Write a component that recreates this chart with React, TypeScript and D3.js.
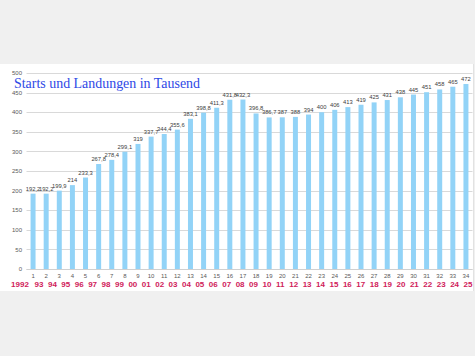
import React from "react";
import * as d3 from "d3";

const indices = Array.from({ length: 34 }, (_, i) => String(i + 1));
const years = ["1992","93","94","95","96","97","98","99","00","01","02","03","04","05","06","07","08","09","10","11","12","13","14","15","16","17","18","19","20","21","22","23","24","25"];
const values = [192.2,192.2,199.9,214,233.3,267.8,278.4,299.1,319,337.7,344.4,355.6,383.1,398.8,411.3,431.8,432.3,396.8,386.7,387,388,394,400,406,413,419,425,431,438,445,451,458,465,472];
const labels = ["192,2","192,2","199,9","214","233,3","267,8","278,4","299,1","319","337,7","344,4","355,6","383,1","398,8","411,3","431,8","432,3","396,8","386,7","387","388","394","400","406","413","419","425","431","438","445","451","458","465","472"];
const yTicks = [0,50,100,150,200,250,300,350,400,450,500];

export default function App() {
  const W = 475, H = 356;
  const left = 26.5, right = 472.5, top = 73, bottom = 269;
  const x = d3.scaleBand<string>().domain(indices).range([left, right]).paddingInner(0.62).paddingOuter(0.31);
  const y = d3.scaleLinear().domain([0, 500]).range([bottom, top]);
  const yearX = d3.scalePoint<string>().domain(years.slice(1)).range([39, 468]);
  const yearPos = (d: string, i: number) => (i === 0 ? 20 : (yearX(d) as number));
  const sans = "'Liberation Sans', Arial, sans-serif";
  return (
    <svg width={W} height={H} style={{ position: "absolute", left: 0, top: 0 }} xmlns="http://www.w3.org/2000/svg">
      <rect x={0} y={0} width={W} height={H} fill="#f0f0f0" />
      <rect x={0} y={64} width={473} height={227} fill="#ffffff" />
      <line x1={473.5} x2={473.5} y1={64} y2={291} stroke="#e2e2e2" />
      {yTicks.map((t) => (
        <g key={t}>
          <line x1={left} x2={right} y1={Math.round(y(t)) + 0.5} y2={Math.round(y(t)) + 0.5} stroke="#d9d9d9" strokeWidth={1} />
          <text x={22} y={y(t)} dy="0.35em" textAnchor="end" fontSize={6} fill="#595959" fontFamily={sans}>{t}</text>
        </g>
      ))}
      {values.map((v, i) => (
        <rect key={i} x={x(indices[i])} y={y(v)} width={x.bandwidth()} height={bottom - y(v)} fill="#92d3f7" />
      ))}
      {values.map((v, i) => (
        <text key={"l" + i} x={(x(indices[i]) as number) + x.bandwidth() / 2} y={y(v) - 3} textAnchor="middle" fontSize={5.8} fill="#404040" fontFamily={sans}>{labels[i]}</text>
      ))}
      <line x1={left} x2={right} y1={bottom + 0.5} y2={bottom + 0.5} stroke="#d0d0d0" />
      {indices.map((d, i) => (
        <text key={"i" + i} x={(x(d) as number) + x.bandwidth() / 2} y={277.5} textAnchor="middle" fontSize={6} fill="#595959" fontFamily={sans}>{d}</text>
      ))}
      {years.map((d, i) => (
        <text key={"y" + d} x={yearPos(d, i)} y={286.5} textAnchor="middle" fontSize={8} fontWeight="bold" fill="#d0215a" fontFamily={sans}>{d}</text>
      ))}
      <text x={14} y={88} fontSize={15} textLength={186} lengthAdjust="spacingAndGlyphs" fill="#2e49e6" fontFamily="'Liberation Serif', 'Times New Roman', serif">Starts und Landungen in Tausend</text>
    </svg>
  );
}
